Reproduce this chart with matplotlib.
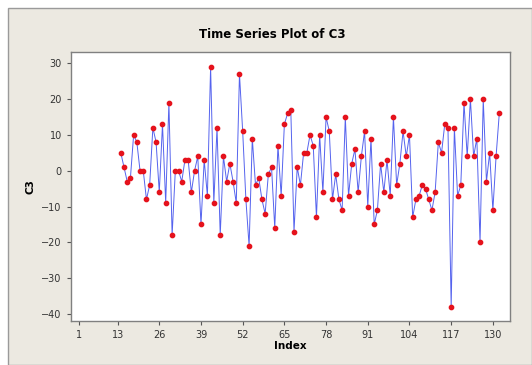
import numpy as np
import matplotlib
matplotlib.use("Agg")
import matplotlib.pyplot as plt
from matplotlib.patches import Rectangle

# Datos (índice 14..132)
start_index = 14
c3 = [5, 1, -3, -2, 10, 8, 0, 0, -8, -4, 12, 8, -6, 13, -9, 19, -18, 0, 0,
      -3, 3, 3, -6, 0, 4, -15, 3, -7, 29, -9, 12, -18, 4, -3, 2, -3, -9, 27,
      11, -8, -21, 9, -4, -2, -8, -12, -1, 1, -16, 7, -7, 13, 16, 17, -17, 1, -4, 5,
      5, 10, 7, -13, 10, -6, 15, 11, -8, -1, -8, -11, 15, -7, 2, 6, -6, 4, 11, -10,
      9, -15, -11, 2, -6, 3, -7, 15, -4, 2, 11, 4, 10, -13, -8, -7, -4, -5, -8, -11,
      -6, 8, 5, 13, 12, -38, 12, -7, -4, 19, 4, 20, 4, 9, -20, 20, -3, 5, -11, 4, 16]
index = np.arange(start_index, start_index + len(c3))

x_ticks = [1, 13, 26, 39, 52, 65, 78, 91, 104, 117, 130]
y_ticks = [30, 20, 10, 0, -10, -20, -30, -40]

fig = plt.figure(figsize=(5.32, 3.65), dpi=100)
fig.patch.set_facecolor("white")

# Panel de fondo estilo Minitab
panel = Rectangle((8 / 532, 0), 1 - 8 / 532, 1 - 8 / 365, transform=fig.transFigure,
                  facecolor="#ECE9E1", edgecolor="#9A9A9A", linewidth=1.0, zorder=-5)
fig.patches.append(panel)

ax = fig.add_axes([0.133, 0.121, 0.826, 0.736])
ax.set_zorder(1)
ax.set_facecolor("white")
ax.plot(index, c3, color="#5563EE", linewidth=0.7, zorder=2)
ax.plot(index, c3, linestyle="none", marker="o", markersize=3.1,
        markerfacecolor="#E5121C", markeredgecolor="#E5121C", zorder=3)

ax.set_xlim(-1.6, 135.4)
ax.set_ylim(-41.9, 33.1)
ax.set_xticks(x_ticks)
ax.set_yticks(y_ticks)
ax.tick_params(direction="out", length=3, width=0.8, color="#555555",
               labelsize=7, labelcolor="#333333")
for side in ["top", "right", "bottom", "left"]:
    ax.spines[side].set_color("#808080")
    ax.spines[side].set_linewidth(1.0)

ax.set_xlabel("Index", fontsize=7.5, fontweight="bold", labelpad=1)
ax.set_ylabel("C3", fontsize=7.5, fontweight="bold", labelpad=4)
fig.text(0.511, 0.905, "Time Series Plot of C3", ha="center", va="center",
         fontsize=8.5, fontweight="bold")

fig.savefig("out.png", dpi=100)
